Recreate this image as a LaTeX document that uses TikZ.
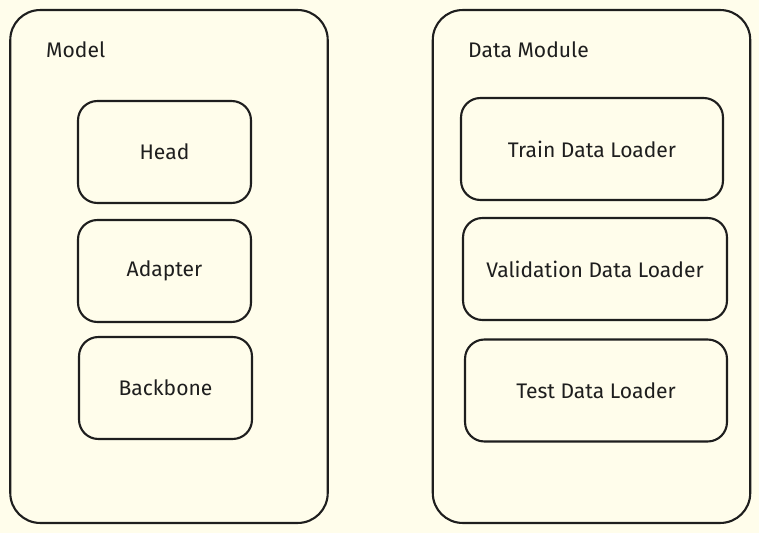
\documentclass[tikz,border=0pt]{standalone}
\usepackage{fontspec}
\setmainfont{Fira Sans}
\usepackage{xcolor}
\definecolor{paper}{HTML}{FFFDEB}
\definecolor{ink}{HTML}{1E1E1E}
\begin{document}
\begin{tikzpicture}[x=0.02cm,y=-0.02cm]
	\fill[paper] (0,0) rectangle (759,533);
	\useasboundingbox (0,0) rectangle (759,533);
	\tikzstyle{every node}=[font=\large, text=ink, draw=ink, line width=1.2pt, rounded corners=17pt, minimum width=6.35cm, minimum height=10.26cm]
	\draw (169,266.5) node (model) {};
	\draw (591.5,266.5) node (data) {};
	\tikzstyle{every node}=[font=\large, text=ink, draw=ink, line width=1.2pt, rounded corners=11pt, minimum height=2.04cm]
	\draw (164.5,152) node[minimum width=3.46cm] (head) {Head};
	\draw (164.5,271) node[minimum width=3.46cm] (adapter) {Adapter};
	\draw (165.5,388) node[minimum width=3.46cm] (backbone) {Backbone};
	\draw (592,149) node[minimum width=5.24cm] (train) {Train Data Loader};
	\draw (595,269) node[minimum width=5.28cm] (val) {Validation Data Loader};
	\draw (596,390.5) node[minimum width=5.24cm] (test) {Test Data Loader};
	\tikzstyle{every node}=[font=\large, text=ink, anchor=west]
	\draw (40,50) node (modeltitle) {Model};
	\draw (462,50) node (datatitle) {Data Module};
\end{tikzpicture}
\end{document}
